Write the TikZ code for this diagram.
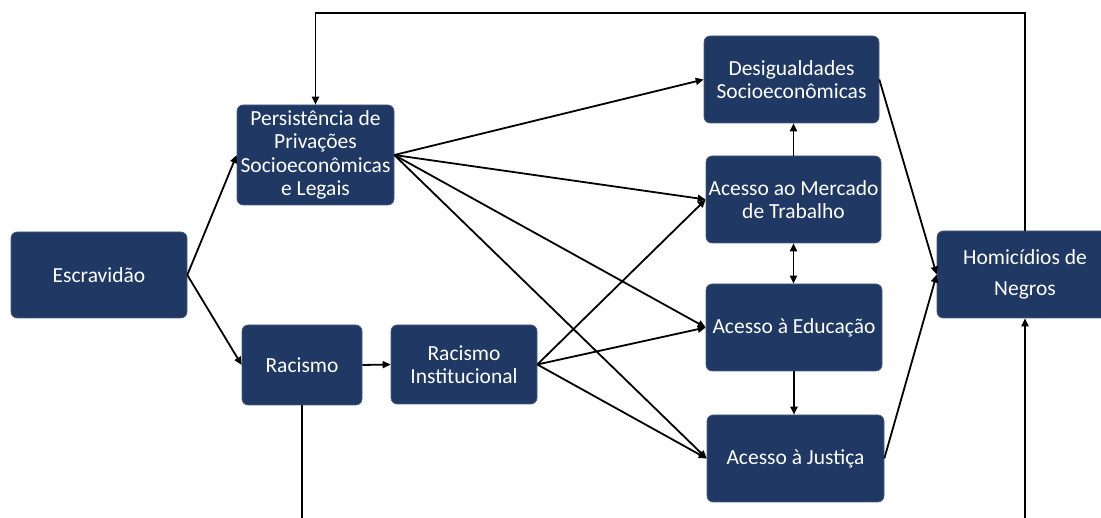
\documentclass[tikz,border=0pt]{standalone}
\usepackage{fontspec}
\setmainfont{Carlito}
\usetikzlibrary{arrows.meta}
\definecolor{navy}{HTML}{1F3864}
\begin{document}
\begin{tikzpicture}[x=1pt,y=-1pt,
  box/.style={fill=navy,draw=navy!80!white,line width=0.6pt,rounded corners=6pt,text=white,align=center,inner sep=0pt,
    font=\fontsize{21.5}{23.5}\selectfont},
  link/.style={draw=black,line width=1.8pt,-{Triangle[length=8pt,width=7pt]}},
  plain/.style={draw=black,line width=1.8pt}]
\useasboundingbox (0,0) rectangle (1101,518);
\clip (0,0) rectangle (1101,518);
\fill[white] (0,0) rectangle (1101,518);

\node[box,minimum width=176pt,minimum height=86pt] (esc) at (99,275) {Escravidão};
\node[box,minimum width=157pt,minimum height=100pt] (pers) at (315.5,155) {Persistência de\\Privações\\Socioeconômicas\\e Legais};
\node[box,minimum width=120pt,minimum height=80pt] (rac) at (302,365) {Racismo};
\node[box,minimum width=146pt,minimum height=79pt] (ri) at (464,364.5) {Racismo\\Institucional};
\node[box,minimum width=175pt,minimum height=87pt] (des) at (791.5,79.5) {Desigualdades\\Socioeconômicas};
\node[box,minimum width=175pt,minimum height=87pt] (mer) at (793.5,199.5) {Acesso ao Mercado\\de Trabalho};
\node[box,minimum width=176pt,minimum height=87pt] (edu) at (794,327.5) {Acesso à Educação};
\node[box,minimum width=177pt,minimum height=87pt] (jus) at (795.5,458.5) {Acesso à Justiça};
\node[box,minimum width=176pt,minimum height=87pt] (hom) at (1025,274.5) {Homicídios de\\[8pt]Negros};

\draw[link] (esc.east) -- (pers.west);
\draw[link] (esc.east) -- (rac.west);
\draw[link] (rac.east) -- (ri.west);

\draw[link] (pers.east) -- (des.west);
\draw[link] (pers.east) -- (mer.west);
\draw[link] (pers.east) -- (edu.west);
\draw[link] (pers.east) -- (jus.west);

\draw[link] (ri.east) -- (mer.west);
\draw[link] (ri.east) -- (edu.west);
\draw[link] (ri.east) -- (jus.west);

\draw[link] (mer.north) -- (mer.north |- des.south);
\draw[link,{Triangle[length=8pt,width=7pt]}-{Triangle[length=8pt,width=7pt]}] (mer.south) -- (mer.south |- edu.north);
\draw[link] (edu.south) -- (edu.south |- jus.north);

\draw[link] (des.east) -- (hom.west);
\draw[link] (jus.east) -- (hom.west);

\coordinate (topc) at (700,13);
\coordinate (botc) at (700,540);
\draw[link] (hom.north) |- (topc) -| (pers.north);
\draw[link] (rac.south) |- (botc) -| (hom.south);
\end{tikzpicture}
\end{document}
